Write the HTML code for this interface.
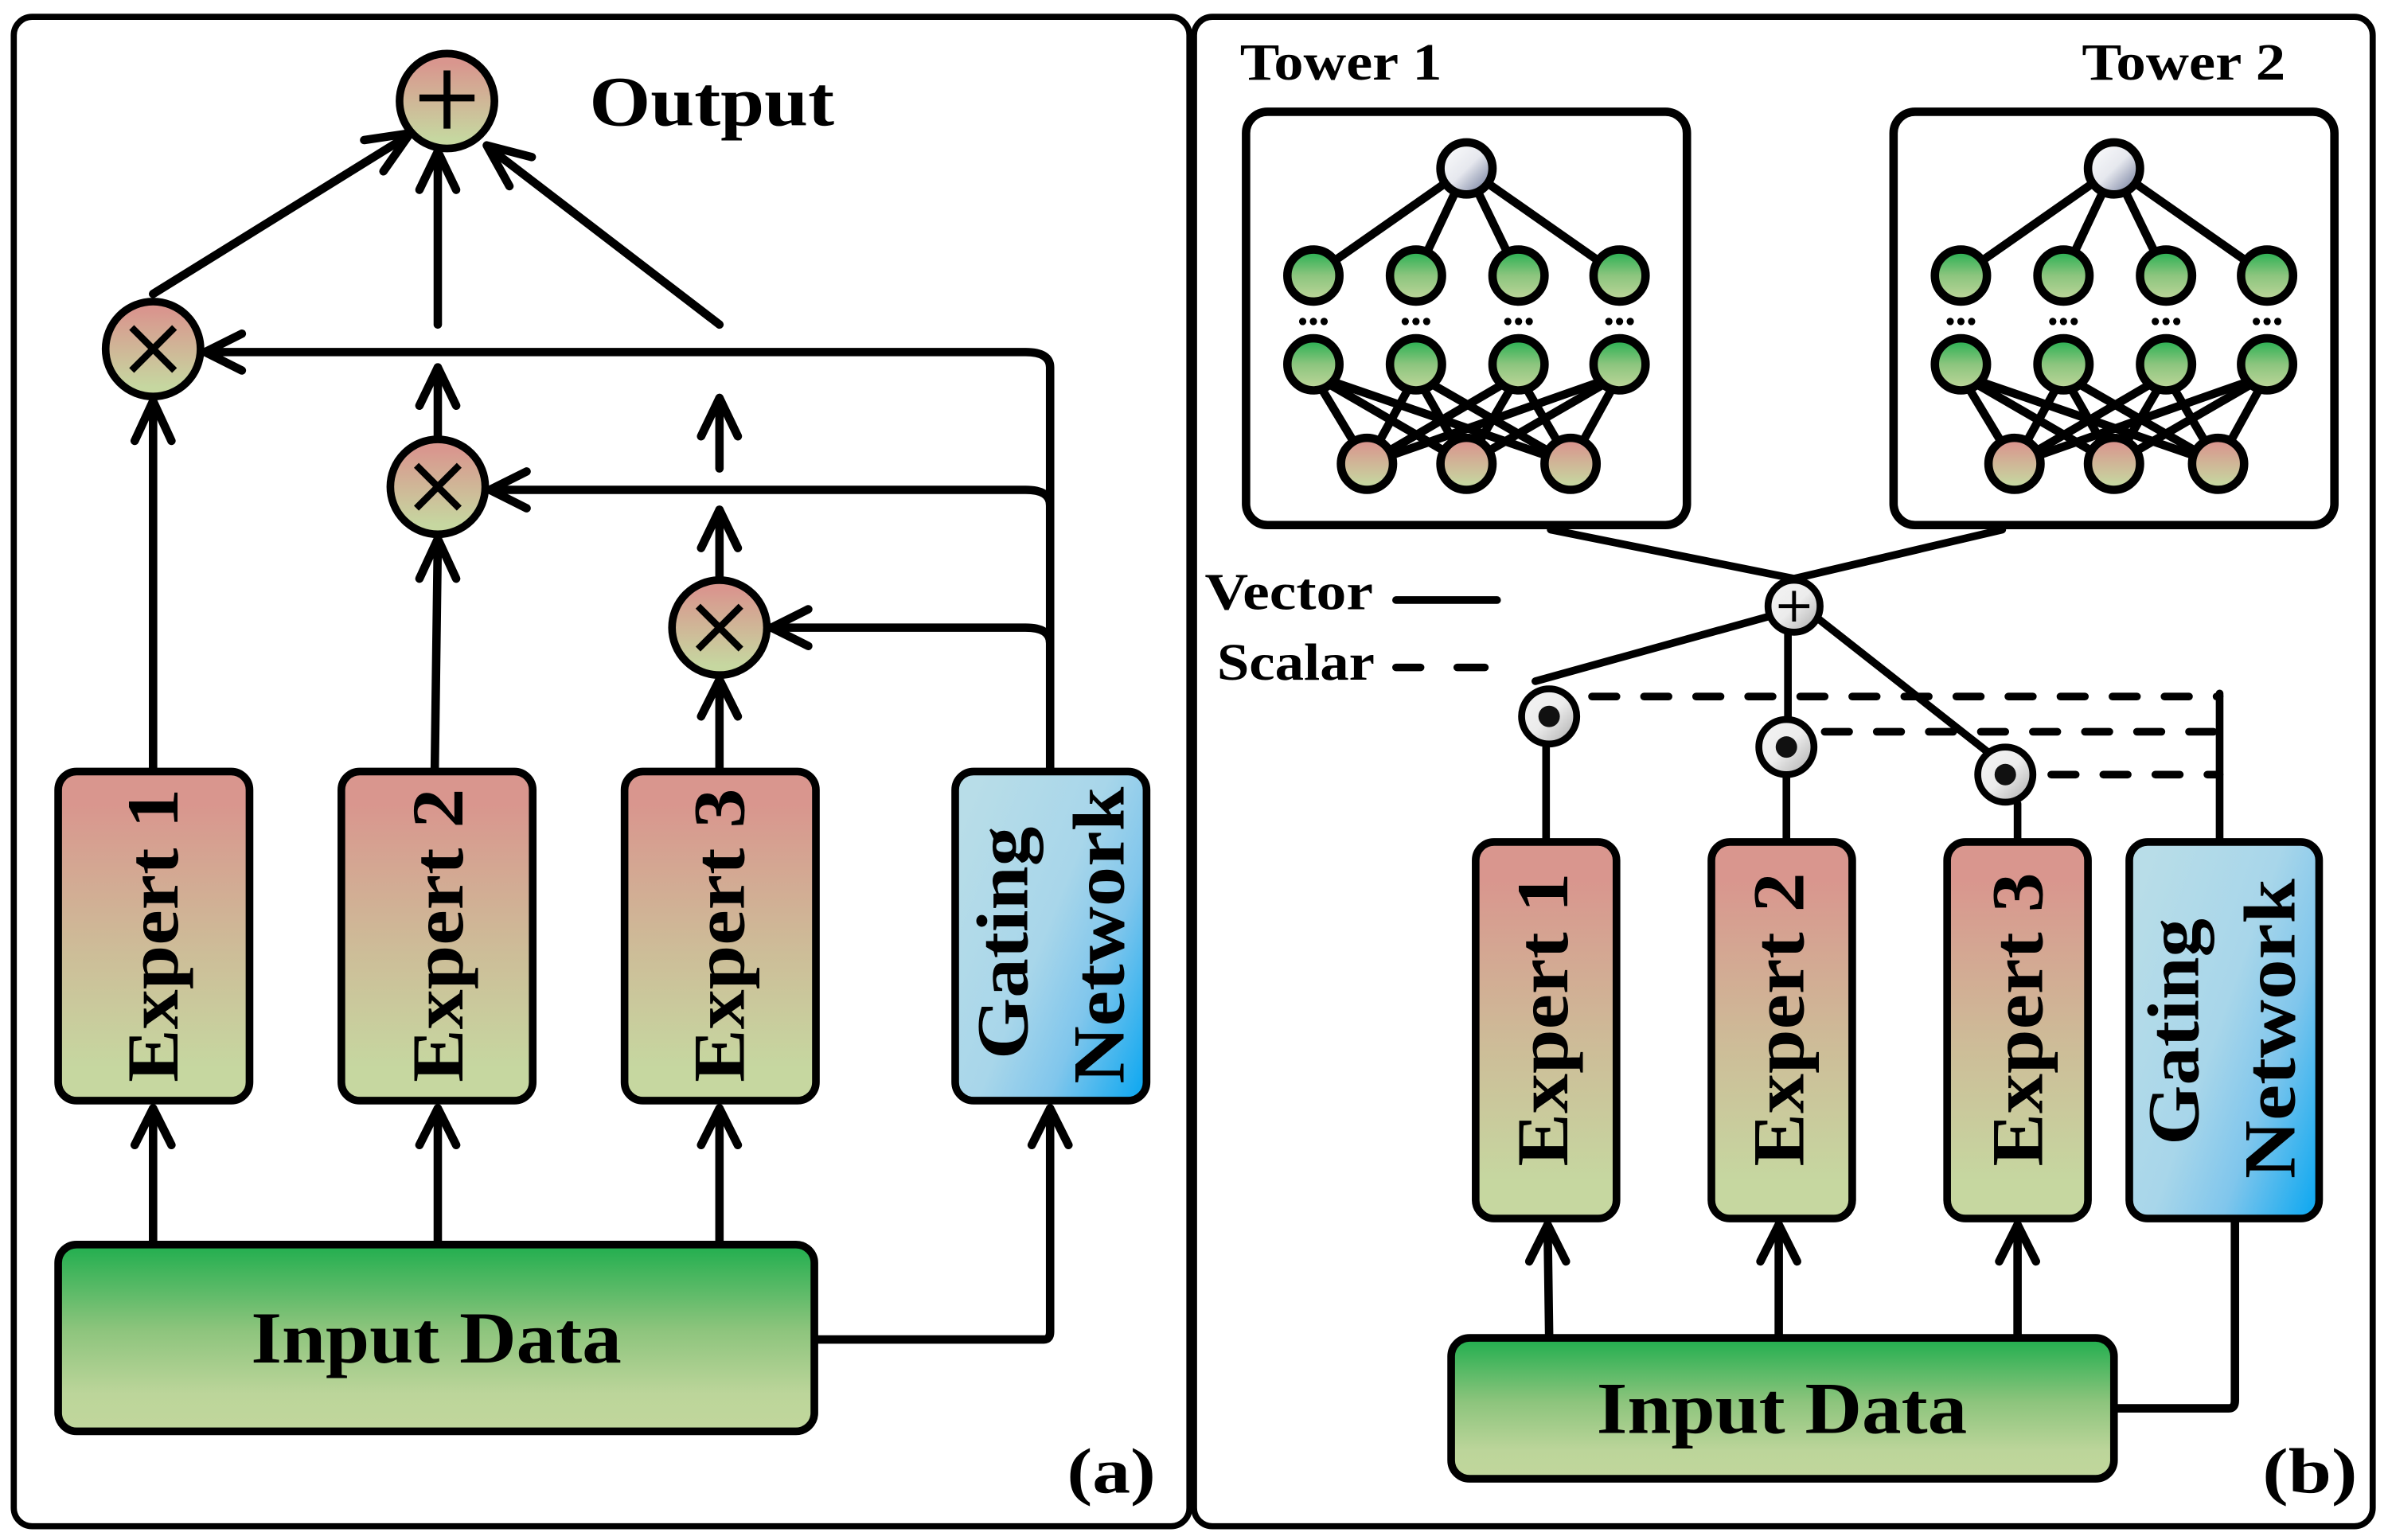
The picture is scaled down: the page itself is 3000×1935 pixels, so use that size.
<!DOCTYPE html>
<html><head><meta charset="utf-8"><style>html,body{margin:0;padding:0;background:#fff}svg{display:block}text{font-family:"Liberation Serif","Times New Roman",serif;font-weight:bold}</style></head><body>
<svg width="3000" height="1935" viewBox="0 0 1560 1006" preserveAspectRatio="none" xmlns="http://www.w3.org/2000/svg">
<defs>
<linearGradient id="rg" x1="0" y1="0" x2="0" y2="1"><stop offset="0.1" stop-color="#d9968e"/><stop offset="0.9" stop-color="#c6d7a0"/></linearGradient>
<linearGradient id="ex" x1="0" y1="0" x2="0" y2="1"><stop offset="0.1" stop-color="#d9968e"/><stop offset="0.55" stop-color="#cdbd98"/><stop offset="0.9" stop-color="#c6d7a0"/></linearGradient>
<linearGradient id="gn" x1="0" y1="0" x2="0" y2="1"><stop offset="0" stop-color="#20ae4e"/><stop offset="0.5" stop-color="#8cc57e"/><stop offset="1" stop-color="#c1d79c"/></linearGradient>
<linearGradient id="inp" x1="0" y1="0" x2="0" y2="1"><stop offset="0" stop-color="#20ae4e"/><stop offset="0.45" stop-color="#8cc47c"/><stop offset="0.8" stop-color="#bcd59a"/><stop offset="1" stop-color="#c1d79c"/></linearGradient>
<linearGradient id="gate" x1="0" y1="0.2" x2="1" y2="0.9"><stop offset="0" stop-color="#b8dde8"/><stop offset="0.45" stop-color="#a8d6ea"/><stop offset="0.7" stop-color="#80c6ec"/><stop offset="1" stop-color="#16aaf0"/></linearGradient>
<linearGradient id="gr" x1="0" y1="0" x2="1" y2="1"><stop offset="0" stop-color="#ffffff"/><stop offset="0.5" stop-color="#e6e8ee"/><stop offset="1" stop-color="#5e6a8e"/></linearGradient>
<linearGradient id="gr2" x1="1" y1="1" x2="0" y2="0"><stop offset="0" stop-color="#a8a8a8"/><stop offset="0.5" stop-color="#ececec"/><stop offset="1" stop-color="#f4f4f4"/></linearGradient>
<g id="tower">
 <g stroke="#000" stroke-width="5.5" fill="none">
  <line x1="958" y1="110" x2="858" y2="180"/><line x1="958" y1="110" x2="925" y2="180"/><line x1="958" y1="110" x2="992" y2="180"/><line x1="958" y1="110" x2="1058" y2="180"/>
  <line x1="858" y1="245" x2="893" y2="303"/><line x1="858" y1="245" x2="958" y2="303"/><line x1="858" y1="245" x2="1026" y2="303"/>
  <line x1="925" y1="245" x2="893" y2="303"/><line x1="925" y1="245" x2="958" y2="303"/><line x1="925" y1="245" x2="1026" y2="303"/>
  <line x1="992" y1="245" x2="893" y2="303"/><line x1="992" y1="245" x2="958" y2="303"/><line x1="992" y1="245" x2="1026" y2="303"/>
  <line x1="1058" y1="245" x2="893" y2="303"/><line x1="1058" y1="245" x2="958" y2="303"/><line x1="1058" y1="245" x2="1026" y2="303"/>
 </g>
 <g stroke="#000" stroke-width="5.5">
  <circle cx="958" cy="110" r="17" fill="url(#gr)"/>
  <circle cx="858" cy="180" r="17" fill="url(#gn)"/><circle cx="925" cy="180" r="17" fill="url(#gn)"/><circle cx="992" cy="180" r="17" fill="url(#gn)"/><circle cx="1058" cy="180" r="17" fill="url(#gn)"/>
  <circle cx="858" cy="238" r="17" fill="url(#gn)"/><circle cx="925" cy="238" r="17" fill="url(#gn)"/><circle cx="992" cy="238" r="17" fill="url(#gn)"/><circle cx="1058" cy="238" r="17" fill="url(#gn)"/>
  <circle cx="893" cy="303" r="17" fill="url(#rg)"/><circle cx="958" cy="303" r="17" fill="url(#rg)"/><circle cx="1026" cy="303" r="17" fill="url(#rg)"/>
 </g>
 <g fill="#000">
  <circle cx="851" cy="210" r="2.4"/><circle cx="858" cy="210" r="2.4"/><circle cx="865" cy="210" r="2.4"/>
  <circle cx="918" cy="210" r="2.4"/><circle cx="925" cy="210" r="2.4"/><circle cx="932" cy="210" r="2.4"/>
  <circle cx="985" cy="210" r="2.4"/><circle cx="992" cy="210" r="2.4"/><circle cx="999" cy="210" r="2.4"/>
  <circle cx="1051" cy="210" r="2.4"/><circle cx="1058" cy="210" r="2.4"/><circle cx="1065" cy="210" r="2.4"/>
 </g>
</g>
</defs>

<rect x="9" y="11" width="768" height="986" rx="12" fill="none" stroke="#000" stroke-width="4"/>
<rect x="780" y="11" width="770" height="986" rx="12" fill="none" stroke="#000" stroke-width="4"/>

<g stroke="#000" stroke-width="5.5" fill="none" stroke-linecap="round" stroke-linejoin="round">
 <line x1="100" y1="192" x2="266" y2="89"/>
 <polyline points="250.5,111.9 268,87 237.9,91.5"/>
 <line x1="286" y1="212" x2="286" y2="102"/>
 <polyline points="274,124 286,99 298,124"/>
 <line x1="470" y1="212" x2="320" y2="97"/>
 <polyline points="347.4,102.6 318,95 332.8,121.6"/>
 <path d="M686 503 V240 Q686 230 670 230 H134"/>
 <polyline points="158,218 134,230 158,242"/>
 <path d="M686 330 Q686 320 670 320 H320"/>
 <polyline points="344,308 320,320 344,332"/>
 <path d="M686 420 Q686 410 670 410 H504"/>
 <polyline points="528,398 504,410 528,422"/>
 <line x1="100" y1="503" x2="100" y2="262"/><polyline points="88,288 100,262 112,288"/>
 <line x1="284" y1="503" x2="286" y2="352"/><polyline points="274,378 286,352 298,378"/>
 <line x1="286" y1="286" x2="286" y2="240"/><polyline points="274,265 286,240 298,265"/>
 <line x1="470" y1="306" x2="470" y2="260"/><polyline points="458,285 470,260 482,285"/>
 <line x1="470" y1="378" x2="470" y2="333"/><polyline points="458,358 470,333 482,358"/>
 <line x1="470" y1="503" x2="470" y2="444"/><polyline points="458,468 470,444 482,468"/>
 <line x1="100" y1="812" x2="100" y2="724"/><polyline points="88,748 100,724 112,748"/>
 <line x1="286" y1="812" x2="286" y2="724"/><polyline points="274,748 286,724 298,748"/>
 <line x1="470" y1="812" x2="470" y2="724"/><polyline points="458,748 470,724 482,748"/>
 <path d="M532 875 H682 Q686 875 686 870 V724"/><polyline points="674,748 686,724 698,748"/>
</g>
<g stroke="#000" stroke-width="5">
 <circle cx="292" cy="66" r="31" fill="url(#rg)"/>
 <circle cx="100" cy="228" r="31" fill="url(#rg)"/>
 <circle cx="286" cy="318" r="31" fill="url(#rg)"/>
 <circle cx="470" cy="410" r="31" fill="url(#rg)"/>
</g>
<g stroke="#000" stroke-width="4.5" fill="none">
 <line x1="274" y1="64" x2="310" y2="64"/><line x1="292" y1="46" x2="292" y2="84"/>
 <line x1="86" y1="214" x2="114" y2="242"/><line x1="114" y1="214" x2="86" y2="242"/>
 <line x1="272" y1="304" x2="300" y2="332"/><line x1="300" y1="304" x2="272" y2="332"/>
 <line x1="456" y1="396" x2="484" y2="424"/><line x1="484" y1="396" x2="456" y2="424"/>
</g>
<text x="385" y="82" font-size="46" textLength="160" lengthAdjust="spacingAndGlyphs">Output</text>

<g stroke="#000" stroke-width="5">
 <rect x="38" y="504" width="125" height="215" rx="12" fill="url(#ex)"/>
 <rect x="223" y="504" width="125" height="215" rx="12" fill="url(#ex)"/>
 <rect x="408" y="504" width="125" height="215" rx="12" fill="url(#ex)"/>
 <rect x="624" y="504" width="125" height="215" rx="12" fill="url(#gate)"/>
 <rect x="38" y="813" width="494" height="122" rx="12" fill="url(#inp)"/>
</g>
<g font-size="48" text-anchor="middle">
 <text transform="translate(100,611) rotate(-90)" dy="16" textLength="192" lengthAdjust="spacingAndGlyphs">Expert 1</text>
 <text transform="translate(286,611) rotate(-90)" dy="16" textLength="192" lengthAdjust="spacingAndGlyphs">Expert 2</text>
 <text transform="translate(470,611) rotate(-90)" dy="16" textLength="192" lengthAdjust="spacingAndGlyphs">Expert 3</text>
 <text transform="translate(655,616) rotate(-90)" dy="16" textLength="152" lengthAdjust="spacingAndGlyphs">Gating</text>
 <text transform="translate(718,611) rotate(-90)" dy="16" textLength="194" lengthAdjust="spacingAndGlyphs">Network</text>
 <text x="285" y="890" textLength="242" lengthAdjust="spacingAndGlyphs">Input Data</text>
</g>
<text x="697" y="975" font-size="42" textLength="58" lengthAdjust="spacingAndGlyphs">(a)</text>

<text x="810" y="52" font-size="34" textLength="132" lengthAdjust="spacingAndGlyphs">Tower 1</text>
<text x="1360" y="52" font-size="34" textLength="133" lengthAdjust="spacingAndGlyphs">Tower 2</text>
<rect x="814" y="73" width="288" height="270" rx="14" fill="none" stroke="#000" stroke-width="5.5"/>
<rect x="1237" y="73" width="288" height="270" rx="14" fill="none" stroke="#000" stroke-width="5.5"/>
<use href="#tower"/>
<use href="#tower" transform="translate(423,0)"/>

<g stroke="#000" stroke-width="5" fill="none" stroke-linecap="round">
 <polyline points="1013,346 1172,378 1308,346"/>
 <line x1="1158" y1="402" x2="1003" y2="445"/>
 <line x1="1168" y1="410" x2="1168" y2="470"/>
 <line x1="1185" y1="402" x2="1302" y2="494"/>
 <line x1="1010" y1="487" x2="1010" y2="550"/>
 <line x1="1167" y1="507" x2="1167" y2="550"/>
 <line x1="1318" y1="525" x2="1318" y2="550"/>
 <line x1="1450" y1="453" x2="1450" y2="550"/>
 <line x1="912" y1="392" x2="978" y2="392"/>
 <line x1="912" y1="436" x2="928" y2="436"/><line x1="952" y1="436" x2="970" y2="436"/>
 <line x1="1040" y1="455" x2="1450" y2="455" stroke-dasharray="16,18"/>
 <line x1="1192" y1="478" x2="1450" y2="478" stroke-dasharray="16,18"/>
 <line x1="1340" y1="506" x2="1450" y2="506" stroke-dasharray="16,18"/>
</g>
<g stroke="#000" stroke-width="4.5">
 <circle cx="1172" cy="396" r="17" fill="url(#gr2)"/>
 <circle cx="1012" cy="468" r="18" fill="url(#gr2)"/>
 <circle cx="1167" cy="488" r="18" fill="url(#gr2)"/>
 <circle cx="1310" cy="506" r="18" fill="url(#gr2)"/>
</g>
<g stroke="#000" stroke-width="2.5"><line x1="1162" y1="396" x2="1182" y2="396"/><line x1="1172" y1="386" x2="1172" y2="406"/></g>
<g fill="#111"><circle cx="1012" cy="468" r="7"/><circle cx="1167" cy="488" r="7"/><circle cx="1310" cy="506" r="7"/></g>
<text x="787" y="398" font-size="34" textLength="110" lengthAdjust="spacingAndGlyphs">Vector</text>
<text x="795" y="444" font-size="34" textLength="103" lengthAdjust="spacingAndGlyphs">Scalar</text>

<g stroke="#000" stroke-width="5.5" fill="none" stroke-linecap="round" stroke-linejoin="round">
 <line x1="1012" y1="873" x2="1011" y2="800"/><polyline points="999,824 1011,800 1023,824"/>
 <line x1="1162" y1="873" x2="1162" y2="800"/><polyline points="1150,824 1162,800 1174,824"/>
 <line x1="1318" y1="873" x2="1318" y2="800"/><polyline points="1306,824 1318,800 1330,824"/>
 <path d="M1381 920 H1456 Q1460 920 1460 915 V798"/>
</g>
<g stroke="#000" stroke-width="5">
 <rect x="964" y="550" width="92" height="246" rx="12" fill="url(#ex)"/>
 <rect x="1118" y="550" width="92" height="246" rx="12" fill="url(#ex)"/>
 <rect x="1272" y="550" width="92" height="246" rx="12" fill="url(#ex)"/>
 <rect x="1391" y="550" width="124" height="246" rx="12" fill="url(#gate)"/>
 <rect x="948" y="874" width="433" height="92" rx="12" fill="url(#inp)"/>
</g>
<g font-size="48" text-anchor="middle">
 <text transform="translate(1008,666) rotate(-90)" dy="16" textLength="192" lengthAdjust="spacingAndGlyphs">Expert 1</text>
 <text transform="translate(1162,666) rotate(-90)" dy="16" textLength="192" lengthAdjust="spacingAndGlyphs">Expert 2</text>
 <text transform="translate(1318,666) rotate(-90)" dy="16" textLength="192" lengthAdjust="spacingAndGlyphs">Expert 3</text>
 <text transform="translate(1420,674) rotate(-90)" dy="16" textLength="148" lengthAdjust="spacingAndGlyphs">Gating</text>
 <text transform="translate(1483,672) rotate(-90)" dy="16" textLength="196" lengthAdjust="spacingAndGlyphs">Network</text>
 <text x="1164" y="936" textLength="242" lengthAdjust="spacingAndGlyphs">Input Data</text>
</g>
<text x="1478" y="975" font-size="42" textLength="62" lengthAdjust="spacingAndGlyphs">(b)</text>
</svg>
</body></html>
